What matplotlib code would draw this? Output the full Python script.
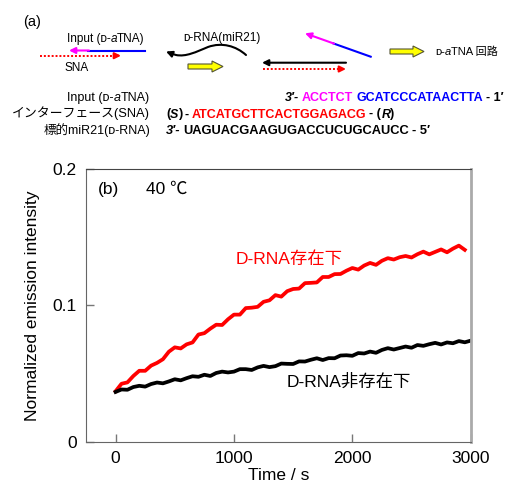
import numpy as np
import matplotlib.pyplot as plt
import matplotlib.patches as patches
from matplotlib.path import Path

plt.rcParams['font.family'] = ['Liberation Sans', 'Noto Sans CJK JP', 'DejaVu Sans']

# fluorescence time courses at 40 C, sampled every 50 s
time_with = np.arange(0, 2951, 50)
emission_with = [
    0.0370, 0.0425, 0.0435, 0.0482, 0.0520, 0.0520, 0.0558, 0.0578, 0.0605, 0.0660,
    0.0692, 0.0684, 0.0714, 0.0728, 0.0786, 0.0796, 0.0829, 0.0858, 0.0856, 0.0898,
    0.0932, 0.0932, 0.0980, 0.0983, 0.0989, 0.1026, 0.1037, 0.1075, 0.1064, 0.1104,
    0.1120, 0.1123, 0.1163, 0.1165, 0.1168, 0.1208, 0.1208, 0.1229, 0.1230, 0.1254,
    0.1274, 0.1262, 0.1292, 0.1311, 0.1297, 0.1327, 0.1346, 0.1336, 0.1353, 0.1362,
    0.1351, 0.1375, 0.1394, 0.1374, 0.1392, 0.1410, 0.1389, 0.1416, 0.1438, 0.1407,
]
time_without = np.arange(0, 3001, 50)
emission_without = [
    0.0365, 0.0383, 0.0381, 0.0401, 0.0410, 0.0404, 0.0423, 0.0434, 0.0428, 0.0442,
    0.0458, 0.0450, 0.0466, 0.0480, 0.0476, 0.0491, 0.0482, 0.0504, 0.0514, 0.0508,
    0.0514, 0.0532, 0.0532, 0.0526, 0.0545, 0.0556, 0.0547, 0.0554, 0.0573, 0.0571,
    0.0570, 0.0589, 0.0588, 0.0601, 0.0612, 0.0599, 0.0613, 0.0612, 0.0632, 0.0634,
    0.0630, 0.0650, 0.0647, 0.0661, 0.0652, 0.0673, 0.0686, 0.0676, 0.0687, 0.0698,
    0.0689, 0.0709, 0.0703, 0.0715, 0.0725, 0.0713, 0.0728, 0.0722, 0.0738, 0.0729,
    0.0741,
]

x_ticks = [0, 1000, 2000, 3000]
y_ticks = [0, 0.1, 0.2]
y_tick_labels = ['0', '0.1', '0.2']

W, H = 510, 482
fig = plt.figure(figsize=(W / 100, H / 100), dpi=100)

# ---- (a) schematic, drawn in pixel units ----
sk = fig.add_axes([0, 0, 1, 1])
sk.set_xlim(0, W)
sk.set_ylim(H, 0)
sk.axis('off')
renderer = fig.canvas.get_renderer()


def text_run(x, y, parts, size, align='left'):
    """Place styled pieces side by side; a number in parts is a gap in px."""
    items = []
    cx = x
    for p in parts:
        if isinstance(p, (int, float)):
            cx += p
            continue
        s, color, weight, style = p
        t = sk.text(cx, y, s, color=color, fontsize=size, fontweight=weight,
                    fontstyle=style, ha='left', va='baseline')
        cx += t.get_window_extent(renderer).width
        items.append(t)
    if align == 'right':
        total = cx - x
        for t in items:
            t.set_x(t.get_position()[0] - total)


def arrow(x0, y0, x1, y1, color, lw=1.5):
    sk.annotate('', xy=(x1, y1), xytext=(x0, y0),
                arrowprops=dict(arrowstyle='-|>', color=color, lw=lw,
                                mutation_scale=9, shrinkA=0, shrinkB=0))


def dotted_arrow(x0, x1, y, color):
    sk.plot([x0, x1 - 5], [y, y], color=color, lw=1.4, ls=(0, (1, 1)))
    arrow(x1 - 6, y, x1, y, color)


def block_arrow(x0, x1, y):
    sk.add_patch(patches.FancyArrow(x0, y, x1 - x0, 0, width=5, head_width=11,
                                    head_length=11, length_includes_head=True,
                                    fc='#ffff00', ec='#555533', lw=0.8))


sk.text(23, 26, '(a)', fontsize=10.5)

# input strand hybridised to SNA
sk.plot([145, 88], [50.5, 50.5], color='#0000ff', lw=1.5)
arrow(89, 50.5, 69, 50.5, '#ff00ff')
dotted_arrow(40, 121, 55.7, '#ff0000')
text_run(67, 42, [('Input (ᴅ-', 'black', 'normal', 'normal'),
                  ('a', 'black', 'normal', 'italic'),
                  ('TNA)', 'black', 'normal', 'normal')], 8.5)
sk.text(65, 71, 'SNA', fontsize=8.5)

# miR21 strand displacement (wavy strand heading left)
wave = Path([(246, 55), (236, 46), (222, 42), (208, 47),
             (196, 52), (186, 57), (176, 55),
             (171, 53.5), (166, 51.5)],
            [Path.MOVETO] + [Path.CURVE4] * 6 + [Path.LINETO] * 2)
sk.add_patch(patches.FancyArrowPatch(path=wave, arrowstyle='-|>', color='black',
                                     lw=1.5, mutation_scale=9))
text_run(183, 41, [('ᴅ-RNA(miR21)', 'black', 'normal', 'normal')], 8.5)
block_arrow(188, 223, 66.5)

# released input and RNA/SNA duplex
sk.plot([370.7, 333.3], [56.7, 43.4], color='#0000ff', lw=1.5)
arrow(334, 43.6, 305, 33.3, '#ff00ff')
arrow(346, 62.7, 262, 62.7, 'black')
dotted_arrow(263, 346, 69, '#ff0000')
block_arrow(390, 424, 51.5)
text_run(435, 55, [('ᴅ-', 'black', 'normal', 'normal'),
                   ('a', 'black', 'normal', 'italic'),
                   ('TNA 回路', 'black', 'normal', 'normal')], 8)

# sequences
text_run(150, 101, [('Input (ᴅ-', 'black', 'normal', 'normal'),
                    ('a', 'black', 'normal', 'italic'),
                    ('TNA)', 'black', 'normal', 'normal')], 9, align='right')
text_run(150, 117.5, [('インターフェース(SNA)', 'black', 'normal', 'normal')], 9.3, align='right')
text_run(150, 134, [('標的miR21(ᴅ-RNA)', 'black', 'normal', 'normal')], 9, align='right')

B = 'bold'
text_run(285, 101, [("3′-", 'black', B, 'italic'), 3,
                    ('ACCTCT', '#ff00ff', B, 'normal'), 3,
                    ('GCATCCCATAACTTA', '#0000ff', B, 'normal'), 3,
                    ('- 1′', 'black', B, 'normal')], 9)
text_run(166, 117.5, [('(', 'black', B, 'normal'), ('S', 'black', B, 'italic'),
                      (')', 'black', B, 'normal'), 2, ('-', 'black', B, 'normal'), 3,
                      ('ATCATGCTTCACTGGAGACG', '#ff0000', B, 'normal'), 3,
                      ('- (', 'black', B, 'normal'), ('R', 'black', B, 'italic'),
                      (')', 'black', B, 'normal')], 9)
text_run(166, 134, [("3′-", 'black', B, 'italic'), 3,
                    ('UAGUACGAAGUGACCUCUGCAUCC', 'black', B, 'normal'), 3,
                    ('- 5′', 'black', B, 'normal')], 9.3)

# ---- (b) kinetics ----
ax = fig.add_axes([86 / W, 1 - 441.7 / H, (470.7 - 86) / W, (441.7 - 169) / H])
ax.plot(time_with, emission_with, color='#ff0000', lw=2.7)
ax.plot(time_without, emission_without, color='black', lw=2.7)
ax.set_xlim(-250, 3000)
ax.set_ylim(0, 0.2)
ax.set_xticks(x_ticks)
ax.set_yticks(y_ticks)
ax.set_yticklabels(y_tick_labels)
ax.tick_params(direction='in', length=6, width=1, color='#777777', labelsize=12.5)
ax.tick_params(axis='y', pad=6.5)
ax.tick_params(axis='x', pad=7)
for side in ['left', 'bottom']:
    ax.spines[side].set_color('#666666')
ax.spines['top'].set_color('#444444')
ax.spines['right'].set_color('#aaaaaa')
ax.spines['right'].set_linewidth(2)
ax.set_xlabel('Time / s', fontsize=12.5, labelpad=1)
ax.set_ylabel('Normalized emission intensity', fontsize=12.5, labelpad=9)

ax.text(-152, 0.185, '(b)', fontsize=12.5, va='center')
ax.text(254, 0.185, '40 ℃', fontsize=12.5, va='center')
ax.text(1470, 0.1336, 'D-RNA存在下', fontsize=12.5, color='#ff0000', ha='center', va='center')
ax.text(1967, 0.044, 'D-RNA非存在下', fontsize=12.5, color='black', ha='center', va='center')

fig.savefig('out.png', dpi=100)
